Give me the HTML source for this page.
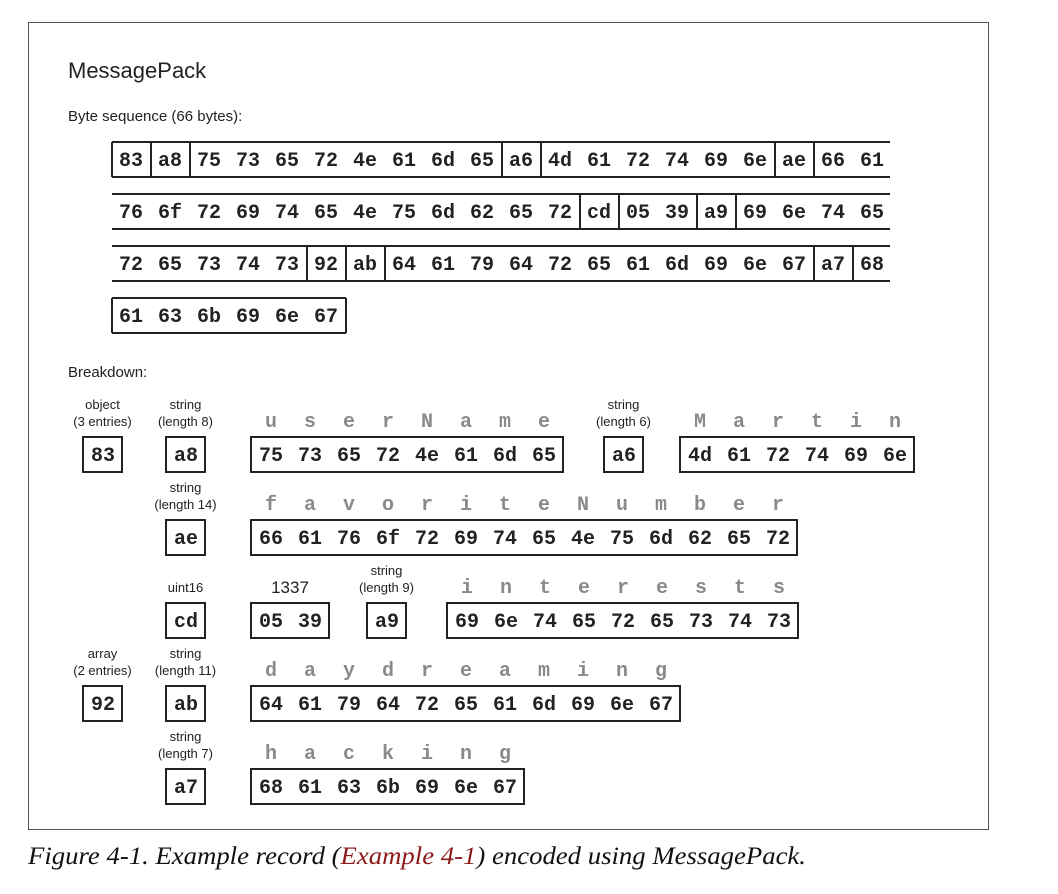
<!DOCTYPE html>
<html><head><meta charset="utf-8"><style>
html,body{margin:0;padding:0;background:#fff;}
svg{display:block;}
.mono{font-family:"Liberation Mono","Courier New",monospace;font-weight:bold;font-size:20px;fill:#222;}
.let{font-family:"Liberation Mono","Courier New",monospace;font-weight:bold;font-size:20px;fill:#8a8a8a;}
.lab{font-family:"Liberation Sans",sans-serif;font-size:13px;fill:#222;}
.box{fill:none;stroke:#222;stroke-width:2;}
</style></head><body>
<svg id="s" width="1058" height="894" xmlns="http://www.w3.org/2000/svg">
<rect x="28.5" y="22.5" width="960" height="807" fill="none" stroke="#555" stroke-width="1"/>
<text x="68" y="78" font-family="Liberation Sans, sans-serif" font-size="22" fill="#222">MessagePack</text>
<text x="68" y="121" font-family="Liberation Sans, sans-serif" font-size="15" fill="#222">Byte sequence (66 bytes):</text>
<text x="68" y="377" font-family="Liberation Sans, sans-serif" font-size="15" fill="#222">Breakdown:</text>
<text x="28" y="864" font-family="Liberation Serif, serif" font-style="italic" font-size="25" fill="#111" textLength="778" lengthAdjust="spacingAndGlyphs">Figure 4-1. Example record (<tspan fill="#8b1a1a">Example 4-1</tspan>) encoded using MessagePack.</text>
</svg>
<script>
const rows = [
 "83 a8 75 73 65 72 4e 61 6d 65 a6 4d 61 72 74 69 6e ae 66 61",
 "76 6f 72 69 74 65 4e 75 6d 62 65 72 cd 05 39 a9 69 6e 74 65",
 "72 65 73 74 73 92 ab 64 61 79 64 72 65 61 6d 69 6e 67 a7 68",
 "61 63 6b 69 6e 67"
];
const seps = [[0,1,2,10,11,17,18],[12,13,15,16],[5,6,7,18,19],[0]];
const S = document.getElementById('s');
const NS = 'http://www.w3.org/2000/svg';
function mk(tag, attrs){const e=document.createElementNS(NS,tag);for(const k in attrs)e.setAttribute(k,attrs[k]);S.appendChild(e);return e;}
const X0=118, P=39;
rows.forEach((r,ri)=>{
  const bytes=r.split(' ');
  const top=142+ri*52, h=35;
  const right = ri<3 ? 890 : X0+P*bytes.length-6;
  let l=mk('line',{x1:112,y1:top,x2:right,y2:top,stroke:'#222','stroke-width':2});
  
  
  l=mk('line',{x1:112,y1:top+h,x2:right,y2:top+h,stroke:'#222','stroke-width':2});
  
  
  seps[ri].forEach(i=>{const x=X0+P*i-6;
    const v=mk('line',{x1:x,y1:top,x2:x,y2:top+h,stroke:'#222','stroke-width':2});
    
    });
  if(ri==3){const v=mk('line',{x1:right,y1:top,x2:right,y2:top+h,stroke:'#222','stroke-width':2});
    
    }
  bytes.forEach((b,i)=>{const t=mk('text',{x:X0+P*i+13,y:top+24,'text-anchor':'middle',class:'mono'});t.textContent=b;
    
    });
});
const items = [
 {tx:90,top:437,bytes:"83",lab:["object","(3 entries)"]},
 {tx:173,top:437,bytes:"a8",lab:["string","(length 8)"]},
 {tx:258,top:437,bytes:"75 73 65 72 4e 61 6d 65",letters:"userName"},
 {tx:611,top:437,bytes:"a6",lab:["string","(length 6)"]},
 {tx:687,top:437,bytes:"4d 61 72 74 69 6e",letters:"Martin"},
 {tx:173,top:520,bytes:"ae",lab:["string","(length 14)"]},
 {tx:258,top:520,bytes:"66 61 76 6f 72 69 74 65 4e 75 6d 62 65 72",letters:"favoriteNumber"},
 {tx:173,top:603,bytes:"cd",lab:["uint16"]},
 {tx:258,top:603,bytes:"05 39",big:"1337"},
 {tx:374,top:603,bytes:"a9",lab:["string","(length 9)"]},
 {tx:454,top:603,bytes:"69 6e 74 65 72 65 73 74 73",letters:"interests"},
 {tx:90,top:686,bytes:"92",lab:["array","(2 entries)"]},
 {tx:173,top:686,bytes:"ab",lab:["string","(length 11)"]},
 {tx:258,top:686,bytes:"64 61 79 64 72 65 61 6d 69 6e 67",letters:"daydreaming"},
 {tx:173,top:769,bytes:"a7",lab:["string","(length 7)"]},
 {tx:258,top:769,bytes:"68 61 63 6b 69 6e 67",letters:"hacking"}
];
items.forEach(it=>{
  const bs=it.bytes.split(' ');
  const x1=it.tx-7, x2=it.tx+P*bs.length-7;
  const r=mk('rect',{x:x1,y:it.top,width:x2-x1,height:35,class:'box'});
  
  
  bs.forEach((b,i)=>{const t=mk('text',{x:it.tx+P*i+13,y:it.top+24,'text-anchor':'middle',class:'mono'});t.textContent=b;
    
    });
  const cx=(x1+x2)/2;
  if(it.lab){
    const ys = it.lab.length==2 ? [it.top-28,it.top-11] : [it.top-11];
    it.lab.forEach((s,i)=>{const t=mk('text',{x:cx,y:ys[i],'text-anchor':'middle',class:'lab'});t.textContent=s;
      
      });
  }
  if(it.letters){
    [...it.letters].forEach((c,i)=>{const t=mk('text',{x:it.tx+P*i+13,y:it.top-10,'text-anchor':'middle',class:'let'});t.textContent=c;
      
      });
  }
  if(it.big){const t=mk('text',{x:cx,y:it.top-10,'text-anchor':'middle','font-family':'Liberation Sans, sans-serif','font-size':'17',fill:'#222'});t.textContent=it.big;
    
    }
});
</script>
</body></html>
